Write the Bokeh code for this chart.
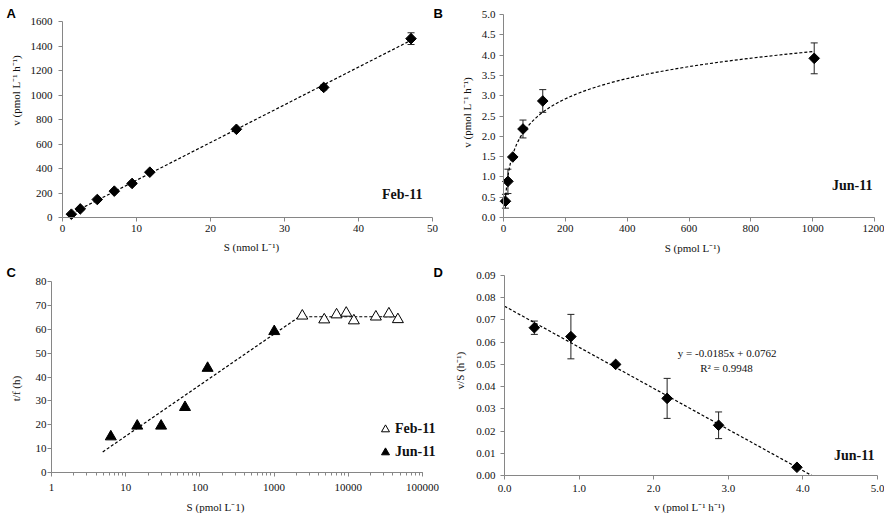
import numpy as np
from bokeh.plotting import figure
from bokeh.layouts import gridplot
from bokeh.models import (ColumnDataSource, Whisker, TeeHead, Label, Legend, LegendItem,
                          FixedTicker, LogTicker, NumeralTickFormatter, Range1d,
                          LinearAxis, LogAxis)
from bokeh.embed import file_html
from bokeh.resources import INLINE

# ---------------- data ----------------
# Panel A: Feb-11
feb_S_nmol = [1.2, 2.4, 4.7, 7.0, 9.4, 11.8, 23.5, 35.3, 47.1]
feb_v = [27, 70, 147, 215, 278, 370, 720, 1062, 1460]
feb_v_err = [0, 0, 0, 0, 0, 0, 0, 20, 48]

# Panel B: Jun-11
jun_S = [6.3, 14.3, 30.0, 63.0, 127.0, 1005.0]
jun_v = [0.40, 0.89, 1.49, 2.18, 2.87, 3.92]
jun_v_err = [0.17, 0.30, 0.0, 0.22, 0.28, 0.38]

# Panel C: turnover time
feb_S_pmol = [2400, 4740, 6950, 9380, 11890, 23530, 35250, 46600]
feb_tf = [65.6, 64.0, 66.1, 66.8, 63.6, 65.2, 66.5, 64.1]
jun_tf = [15.0, 19.5, 19.5, 27.3, 43.7, 59.1]
tf_fit_start = 4.9

# Panel D: Eadie-Hofstee
jun_vS = [0.0665, 0.0625, 0.0500, 0.0347, 0.0226, 0.0037]
jun_vS_err = [0.0030, 0.0100, 0.0, 0.0090, 0.0060, 0.0]
eh_slope = -0.0185
eh_intercept = 0.0762
eh_r2 = 0.9948

A_xticks = [0, 10, 20, 30, 40, 50]
A_yticks = [0, 200, 400, 600, 800, 1000, 1200, 1400, 1600]
B_xticks = [0, 200, 400, 600, 800, 1000, 1200]
B_yticks = [0.0, 0.5, 1.0, 1.5, 2.0, 2.5, 3.0, 3.5, 4.0, 4.5, 5.0]
C_yticks = [0, 10, 20, 30, 40, 50, 60, 70, 80]
D_xticks = [0.0, 1.0, 2.0, 3.0, 4.0, 5.0]
D_yticks = [0.00, 0.01, 0.02, 0.03, 0.04, 0.05, 0.06, 0.07, 0.08, 0.09]

SERIF = "Liberation Serif"
SANS = "Liberation Sans"
AXC = "#868686"
TXT = "#111111"
DASH = "3 2"


class Panel:
    """A figure whose frame fills the canvas; the plot box is placed by pixel layout."""

    def __init__(self, cw, ch, box, xr, yr, logx=False):
        l, t, r, b = box
        self.box, self.logx, self.xr, self.yr = box, logx, xr, yr
        f = np.log10 if logx else (lambda v: v)
        X0, X1 = f(xr[0]), f(xr[1])
        self.X0, self.kx = X0, (r - l) / (X1 - X0)
        self.ky = (b - t) / (yr[1] - yr[0])
        xs, xe = X0 - l / self.kx, X1 + (cw - r) / self.kx
        ys, ye = yr[0] - (ch - b) / self.ky, yr[1] + t / self.ky
        if logx:
            xs, xe = 10 ** xs, 10 ** xe
        self.p = figure(width=cw, height=ch, x_range=Range1d(xs, xe), y_range=Range1d(ys, ye),
                        x_axis_type="log" if logx else "linear",
                        x_axis_location=None, y_axis_location=None,
                        output_backend="svg", toolbar_location=None,
                        min_border=0, min_border_left=0, min_border_right=0,
                        min_border_top=0, min_border_bottom=0)
        self.p.grid.visible = False
        self.p.outline_line_color = None

    def dx(self, px):
        X = self.X0 + (px - self.box[0]) / self.kx
        return 10 ** X if self.logx else X

    def dy(self, py):
        return self.yr[0] + (self.box[3] - py) / self.ky

    def text(self, px, py, txt, size="11px", bold=False, align="center", angle=0.0,
             font=SERIF, color=TXT):
        self.p.add_layout(Label(x=self.dx(px), y=self.dy(py), text=txt, angle=angle,
                                text_align=align, text_baseline="middle",
                                text_font=font, text_font_size=size, text_color=color,
                                text_font_style="bold" if bold else "normal"))


def style_axis(ax, standoff):
    ax.axis_line_color = AXC
    ax.major_tick_line_color = AXC
    ax.major_tick_in = 0
    ax.major_tick_out = 4
    ax.minor_tick_line_color = None
    ax.major_label_standoff = standoff
    ax.major_label_text_font = SERIF
    ax.major_label_text_font_size = "11px"
    ax.major_label_text_color = TXT


def add_axes(pn, xticks, yticks, xfmt=None, yfmt=None, xs=3, ys=6):
    p = pn.p
    xa = LinearAxis(fixed_location=pn.yr[0], bounds=pn.xr, ticker=FixedTicker(ticks=xticks))
    ya = LinearAxis(fixed_location=pn.xr[0], bounds=pn.yr, ticker=FixedTicker(ticks=yticks))
    if xfmt:
        xa.formatter = NumeralTickFormatter(format=xfmt)
    if yfmt:
        ya.formatter = NumeralTickFormatter(format=yfmt)
    style_axis(xa, xs)
    style_axis(ya, ys)
    p.add_layout(xa, "below")
    p.add_layout(ya, "left")


def diamonds(p, x, y):
    p.scatter(x, y, marker="square", size=7.5, angle=np.pi / 4,
              fill_color="black", line_color="black")


def errbars(p, x, y, e):
    xs = [a for a, d in zip(x, e) if d > 0]
    lo = [b - d for b, d in zip(y, e) if d > 0]
    hi = [b + d for b, d in zip(y, e) if d > 0]
    src = ColumnDataSource(dict(x=xs, lo=lo, hi=hi))
    w = Whisker(base="x", lower="lo", upper="hi", source=src, line_color="#222222", line_width=1,
                lower_head=TeeHead(size=7, line_color="#222222", line_width=1),
                upper_head=TeeHead(size=7, line_color="#222222", line_width=1))
    p.add_layout(w)


UP = np.pi / 2

# ---------------- Panel A ----------------
A = Panel(446, 263, (62, 21, 432, 217), (0, 50), (0, 1600))
add_axes(A, A_xticks, A_yticks, xs=3, ys=6)
kA = np.polyfit(feb_S_nmol, feb_v, 1)
xa = np.array([min(feb_S_nmol), max(feb_S_nmol)])
A.p.line(xa, np.polyval(kA, xa), line_dash=DASH, line_color="black", line_width=1.2)
errbars(A.p, feb_S_nmol, feb_v, feb_v_err)
diamonds(A.p, feb_S_nmol, feb_v)
A.text(422, 194, "Feb-11", size="14px", bold=True, align="right")
A.text(251, 246, "S (nmol L\u207b\u00b9)")
A.text(15, 90, "v (pmol L\u207b\u00b9 h\u207b\u00b9)", angle=UP)
A.text(6, 12.5, "A", size="13px", bold=True, align="left", font=SANS, color="black")
A.text(433, 12.5, "B", size="13px", bold=True, align="left", font=SANS, color="black")

# ---------------- Panel B ----------------
B = Panel(438, 263, (57, 14, 428, 217), (0, 1200), (0, 5.0))
add_axes(B, B_xticks, B_yticks, yfmt="0.0", xs=3, ys=4)
kB = np.polyfit(np.log(jun_S), jun_v, 1)
xb = np.geomspace(min(jun_S), max(jun_S), 120)
B.p.line(xb, kB[0] * np.log(xb) + kB[1], line_dash=DASH, line_color="black", line_width=1.2)
errbars(B.p, jun_S, jun_v, jun_v_err)
diamonds(B.p, jun_S, jun_v)
B.text(426, 185, "Jun-11", size="14px", bold=True, align="right")
B.text(246, 247, "S (pmol L\u207b\u00b9)")
B.text(20, 112, "v (pmol L\u207b\u00b9 h\u207b\u00b9)", angle=UP)

# ---------------- Panel C ----------------
C = Panel(446, 250, (51, 18, 422, 209), (1, 100000), (0, 80), logx=True)
cx = LogAxis(fixed_location=0, bounds=(1, 100000), ticker=LogTicker(mantissas=[1], num_minor_ticks=10),
             formatter=NumeralTickFormatter(format="0"))
cy = LinearAxis(fixed_location=1, bounds=(0, 80), ticker=FixedTicker(ticks=C_yticks))
style_axis(cx, 7)
style_axis(cy, 1)
cx.minor_tick_line_color = AXC
cx.minor_tick_in = 0
cx.minor_tick_out = 3
C.p.add_layout(cx, "below")
C.p.add_layout(cy, "left")
kC = np.polyfit(np.log10(jun_S), jun_tf, 1)
plateau = float(np.mean(feb_tf))
x_meet = 10 ** ((plateau - kC[1]) / kC[0])
xc = np.array([tf_fit_start, x_meet])
C.p.line(xc, kC[0] * np.log10(xc) + kC[1], line_dash=DASH, line_color="black", line_width=1.2)
C.p.line([x_meet, max(feb_S_pmol)], [plateau, plateau], line_dash=DASH, line_color="black", line_width=1.2)
r_feb = C.p.scatter(feb_S_pmol, feb_tf, marker="triangle", size=11, fill_color="white",
                    line_color="black", line_width=1)
r_jun = C.p.scatter(jun_S, jun_tf, marker="triangle", size=11, fill_color="black", line_color="black")
leg = Legend(items=[LegendItem(label="Feb-11", renderers=[r_feb]),
                    LegendItem(label="Jun-11", renderers=[r_jun])],
             location=(375, 51), orientation="vertical",
             label_text_font=SERIF, label_text_font_style="bold", label_text_font_size="14px",
             label_text_color=TXT,
             glyph_width=20, glyph_height=20, label_height=20, spacing=3, padding=0, margin=0,
             label_standoff=0, border_line_alpha=0, background_fill_alpha=0)
C.p.add_layout(leg)
C.text(215, 243, "S (pmol L\u207b1)")
C.text(15, 125, "t/f (h)", angle=UP)
C.text(6, 8.5, "C", size="13px", bold=True, align="left", font=SANS, color="black")
C.text(433, 8.5, "D", size="13px", bold=True, align="left", font=SANS, color="black")

# ---------------- Panel D ----------------
D = Panel(438, 250, (58, 12, 431, 212), (0, 5.0), (0, 0.09))
add_axes(D, D_xticks, D_yticks, xfmt="0.0", yfmt="0.00", xs=5, ys=5)
xd = np.array([0.0, -eh_intercept / eh_slope])
D.p.line(xd, eh_slope * xd + eh_intercept, line_dash=DASH, line_color="black", line_width=1.2)
errbars(D.p, jun_v, jun_vS, jun_vS_err)
diamonds(D.p, jun_v, jun_vS)
D.text(282, 89, f"y = {eh_slope:.4f}x  + {eh_intercept:.4f}")
D.text(280, 104, f"R\u00b2 = {eh_r2:.4f}")
D.text(428, 192, "Jun-11", size="14px", bold=True, align="right")
D.text(243, 243, "v (pmol L\u207b\u00b9 h\u207b\u00b9)")
D.text(13, 107, "v/S (h\u207b\u00b9)", angle=UP)

grid = gridplot([[A.p, B.p], [C.p, D.p]], toolbar_location=None)
open("out.html", "w").write(file_html(grid, INLINE))
